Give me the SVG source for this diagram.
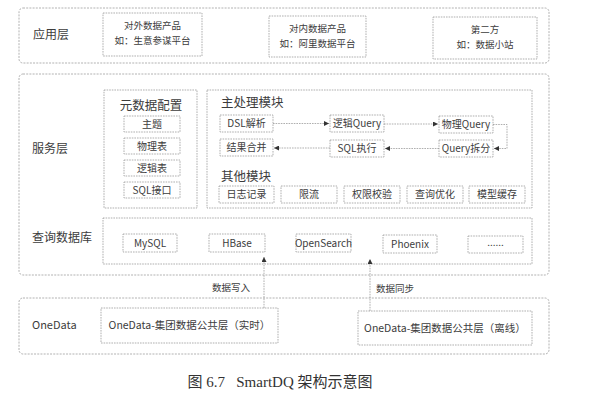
<svg xmlns="http://www.w3.org/2000/svg" width="590" height="408" viewBox="0 0 590 408">
<style>
.outer{fill:none;stroke:#a0a0a0;stroke-width:0.8;stroke-dasharray:2 1.2}
.box{fill:none;stroke:#8c8c8c;stroke-width:0.7;stroke-dasharray:1.6 1}
.con{fill:none;stroke:#8c8c8c;stroke-width:0.7;stroke-dasharray:1.6 1}
.t{font-family:"Noto Sans CJK SC","Noto Sans",sans-serif;fill:#3c3c3c}
.lay{font-size:12px}
.ttl{font-size:12.5px}
.s{font-size:10px;text-anchor:middle}
.a{font-size:9.5px;text-anchor:middle}
.lbl{font-size:9.5px}
.cap{font-family:"Liberation Serif","Noto Sans CJK SC",serif;font-size:15px;fill:#333;text-anchor:middle;white-space:pre}
</style>
<defs>
<marker id="ah" viewBox="0 0 6 6" refX="6" refY="3" markerWidth="5" markerHeight="5" markerUnits="userSpaceOnUse" orient="auto">
<path d="M0,0 L6,3 L0,6 Z" fill="#333"/>
</marker>
</defs>

<g id="app-layer">
<rect class="outer" x="19" y="8" width="530" height="55" rx="4"/>
<text class="t lay" x="33" y="39">应用层</text>
</g>
<g id="app-external">
<rect class="box" x="103" y="13" width="99" height="43"/>
<text class="t a" x="152.5" y="29">对外数据产品</text>
<text class="t a" x="152.5" y="43.5">如：生意参谋平台</text>
</g>
<g id="app-internal">
<rect class="box" x="269" y="16" width="97" height="41"/>
<text class="t a" x="317.5" y="32">对内数据产品</text>
<text class="t a" x="317.5" y="46.5">如：阿里数据平台</text>
</g>
<g id="app-third">
<rect class="box" x="433" y="17" width="104" height="42"/>
<text class="t a" x="485" y="33">第二方</text>
<text class="t a" x="485" y="47.5">如：数据小站</text>
</g>

<g id="service-layer">
<rect class="outer" x="19" y="74" width="530" height="201" rx="4"/>
<text class="t lay" x="32" y="153">服务层</text>
</g>
<g id="meta-config">
<rect class="box" x="104" y="90" width="93" height="118"/>
<text class="t ttl" x="151" y="110" text-anchor="middle">元数据配置</text>
<rect class="box" x="124" y="116" width="56" height="16"/>
<text class="t s" x="152" y="127.5">主题</text>
<rect class="box" x="124" y="138" width="56" height="16"/>
<text class="t s" x="152" y="149.5">物理表</text>
<rect class="box" x="124" y="160" width="56" height="16"/>
<text class="t s" x="152" y="171.5">逻辑表</text>
<rect class="box" x="124" y="182" width="56" height="16"/>
<text class="t s" x="152" y="193.5">SQL接口</text>
</g>
<g id="main-module">
<rect class="box" x="207" y="90" width="325" height="118"/>
<text class="t ttl" x="221" y="107">主处理模块</text>
<text class="t ttl" x="221" y="181">其他模块</text>
</g>
<g id="dsl"><rect class="box" x="220" y="115" width="53" height="17"/><text class="t s" x="246.5" y="127">DSL解析</text></g>
<g id="logic-query"><rect class="box" x="330" y="115" width="54" height="17"/><text class="t s" x="357" y="127">逻辑Query</text></g>
<g id="phys-query"><rect class="box" x="439" y="116" width="54" height="17"/><text class="t s" x="466" y="128">物理Query</text></g>
<g id="merge"><rect class="box" x="220" y="139" width="53" height="17"/><text class="t s" x="246.5" y="151">结果合并</text></g>
<g id="sql-exec"><rect class="box" x="330" y="140" width="54" height="17"/><text class="t s" x="357" y="152">SQL执行</text></g>
<g id="query-split"><rect class="box" x="439" y="140" width="54" height="17"/><text class="t s" x="466" y="152">Query拆分</text></g>
<g id="log"><rect class="box" x="219" y="186" width="55" height="17"/><text class="t s" x="246.5" y="198">日志记录</text></g>
<g id="limit"><rect class="box" x="281" y="186" width="56" height="17"/><text class="t s" x="309" y="198">限流</text></g>
<g id="auth"><rect class="box" x="344" y="186" width="56" height="17"/><text class="t s" x="372" y="198">权限校验</text></g>
<g id="optimize"><rect class="box" x="407" y="186" width="56" height="17"/><text class="t s" x="435" y="198">查询优化</text></g>
<g id="cache"><rect class="box" x="469" y="186" width="56" height="17"/><text class="t s" x="497" y="198">模型缓存</text></g>

<g id="query-db">
<rect class="box" x="103" y="218" width="429" height="46"/>
<text class="t lay" x="32" y="242">查询数据库</text>
</g>
<g id="mysql"><rect class="box" x="123" y="234" width="54" height="18"/><text class="t s" x="150" y="246.5">MySQL</text></g>
<g id="hbase"><rect class="box" x="209" y="234" width="56" height="18"/><text class="t s" x="237" y="246.5">HBase</text></g>
<g id="opensearch"><rect class="box" x="296" y="234" width="55" height="18"/><text class="t s" x="323.5" y="246.5">OpenSearch</text></g>
<g id="phoenix"><rect class="box" x="383" y="235" width="54" height="18"/><text class="t s" x="410" y="247.5">Phoenix</text></g>
<g id="etc"><rect class="box" x="468" y="236" width="55" height="17"/><text class="t s" x="495.5" y="246">......</text></g>

<g id="onedata-layer">
<rect class="outer" x="19" y="298" width="530" height="56" rx="4"/>
<text class="t lay" x="32" y="329" style="font-size:11px">OneData</text>
</g>
<g id="onedata-realtime">
<rect class="box" x="101" y="308" width="177" height="35"/>
<text class="t s" x="189.5" y="329" style="font-size:10.5px">OneData-集团数据公共层（实时）</text>
</g>
<g id="onedata-offline">
<rect class="box" x="358" y="311" width="174" height="34"/>
<text class="t s" x="445" y="331.5" style="font-size:10.5px">OneData-集团数据公共层（离线）</text>
</g>

<g id="connectors">
<line class="con" x1="273" y1="123.5" x2="329" y2="123.5" marker-end="url(#ah)"/>
<line class="con" x1="384" y1="124" x2="438" y2="124" marker-end="url(#ah)"/>
<path class="con" d="M493,124.5 H507 V148.5 H494" marker-end="url(#ah)"/>
<line class="con" x1="439" y1="148.5" x2="385" y2="148.5" marker-end="url(#ah)"/>
<line class="con" x1="330" y1="148" x2="274" y2="148" marker-end="url(#ah)"/>
<line class="con" x1="264" y1="308" x2="264" y2="257" marker-end="url(#ah)"/>
<line class="con" x1="370" y1="311" x2="370" y2="259" marker-end="url(#ah)"/>
<text class="t lbl" x="250" y="290.5" text-anchor="end">数据写入</text>
<text class="t lbl" x="376" y="292">数据同步</text>
</g>

<text class="cap" x="280" y="387" xml:space="preserve">图 6.7   SmartDQ 架构示意图</text>
</svg>
